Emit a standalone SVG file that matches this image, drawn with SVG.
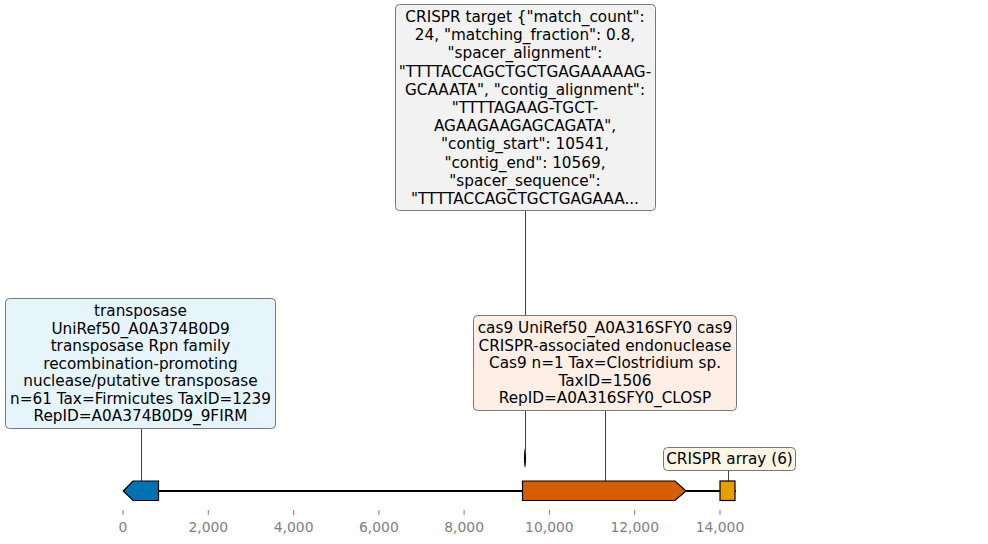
<svg xmlns="http://www.w3.org/2000/svg" width="988" height="544" viewBox="0 0 988 544">
<style>
.lbl{font-family:"DejaVu Sans",sans-serif;font-size:15.28px;fill:#000;text-anchor:middle;dominant-baseline:central}
.box{stroke:#777;stroke-width:1;}
.feat{stroke:#000;stroke-width:1.2}
.tick{stroke:#808080;stroke-width:1}
.tl{font-family:"DejaVu Sans",sans-serif;font-size:13.9px;fill:#808080;text-anchor:middle;dominant-baseline:central}
.lead{stroke:#444;stroke-width:1;fill:none}
</style>
<rect width="988" height="544" fill="#fff"/>
<g id="connectors">
<line class="lead" x1="525.5" y1="210" x2="525.5" y2="450"/>
<line class="lead" x1="141.5" y1="428" x2="141.5" y2="481"/>
<line class="lead" x1="605.5" y1="410" x2="605.5" y2="481"/>
<line class="lead" x1="728.5" y1="470" x2="728.5" y2="481"/>
</g>
<g id="backbone"><line x1="123" y1="491" x2="736" y2="491" stroke="#000" stroke-width="1.8"/></g>
<g id="transposase-feature"><polygon class="feat" fill="#0072b2" points="123.3,491 133,481 158.5,481 158.5,500.5 133,500.5"/></g>
<g id="cas9-feature"><polygon class="feat" fill="#d55e00" points="522.5,481 675,481 686,491 675,500.5 522.5,500.5"/></g>
<g id="crispr-array-feature"><rect class="feat" fill="#e69f00" x="720" y="481" width="15" height="19.5"/></g>
<g id="crispr-target-feature"><ellipse cx="525" cy="458" rx="1" ry="9.5" fill="#000"/></g>
<g id="axis">
<line class="tick" x1="123" y1="510" x2="123" y2="515"/>
<line class="tick" x1="208.3" y1="510" x2="208.3" y2="515"/>
<line class="tick" x1="293.6" y1="510" x2="293.6" y2="515"/>
<line class="tick" x1="378.9" y1="510" x2="378.9" y2="515"/>
<line class="tick" x1="464.1" y1="510" x2="464.1" y2="515"/>
<line class="tick" x1="549.4" y1="510" x2="549.4" y2="515"/>
<line class="tick" x1="634.7" y1="510" x2="634.7" y2="515"/>
<line class="tick" x1="720" y1="510" x2="720" y2="515"/>
<text class="tl" x="123" y="527">0</text>
<text class="tl" x="208.3" y="527">2,000</text>
<text class="tl" x="293.6" y="527">4,000</text>
<text class="tl" x="378.9" y="527">6,000</text>
<text class="tl" x="464.1" y="527">8,000</text>
<text class="tl" x="549.4" y="527">10,000</text>
<text class="tl" x="634.7" y="527">12,000</text>
<text class="tl" x="720" y="527">14,000</text>
</g>
<g id="crispr-target-label">
<rect class="box" x="395.5" y="4.5" width="260" height="206" rx="4" fill="#f2f2f2"/>
<text class="lbl" x="525" y="17">CRISPR target {"match_count":</text>
<text class="lbl" x="525" y="35.2">24, "matching_fraction": 0.8,</text>
<text class="lbl" x="525" y="53.4">"spacer_alignment":</text>
<text class="lbl" x="525" y="71.6">"TTTTACCAGCTGCTGAGAAAAAG-</text>
<text class="lbl" x="525" y="89.8">GCAAATA", "contig_alignment":</text>
<text class="lbl" x="525" y="108">"TTTTAGAAG-TGCT-</text>
<text class="lbl" x="525" y="126.2">AGAAGAAGAGCAGATA",</text>
<text class="lbl" x="525" y="144.4">"contig_start": 10541,</text>
<text class="lbl" x="525" y="162.6">"contig_end": 10569,</text>
<text class="lbl" x="525" y="180.8">"spacer_sequence":</text>
<text class="lbl" x="525" y="199">"TTTTACCAGCTGCTGAGAAA...</text>
</g>
<g id="transposase-label">
<rect class="box" x="5.5" y="298.5" width="270" height="130" rx="4" fill="#e6f5fc"/>
<text class="lbl" x="140.5" y="311">transposase</text>
<text class="lbl" x="140.5" y="328.5">UniRef50_A0A374B0D9</text>
<text class="lbl" x="140.5" y="346">transposase Rpn family</text>
<text class="lbl" x="140.5" y="363.5">recombination-promoting</text>
<text class="lbl" x="140.5" y="381">nuclease/putative transposase</text>
<text class="lbl" x="140.5" y="398.5">n=61 Tax=Firmicutes TaxID=1239</text>
<text class="lbl" x="140.5" y="416">RepID=A0A374B0D9_9FIRM</text>
</g>
<g id="cas9-label">
<rect class="box" x="473.5" y="315.5" width="263" height="95" rx="4" fill="#fdefe6"/>
<text class="lbl" x="605" y="328">cas9 UniRef50_A0A316SFY0 cas9</text>
<text class="lbl" x="605" y="345.5">CRISPR-associated endonuclease</text>
<text class="lbl" x="605" y="363">Cas9 n=1 Tax=Clostridium sp.</text>
<text class="lbl" x="605" y="380.5">TaxID=1506</text>
<text class="lbl" x="605" y="398">RepID=A0A316SFY0_CLOSP</text>
</g>
<g id="crispr-array-label">
<rect class="box" x="663.5" y="447.5" width="132" height="23" rx="4" fill="#fdf6e6"/>
<text class="lbl" x="729.5" y="459">CRISPR array (6)</text>
</g>
</svg>
